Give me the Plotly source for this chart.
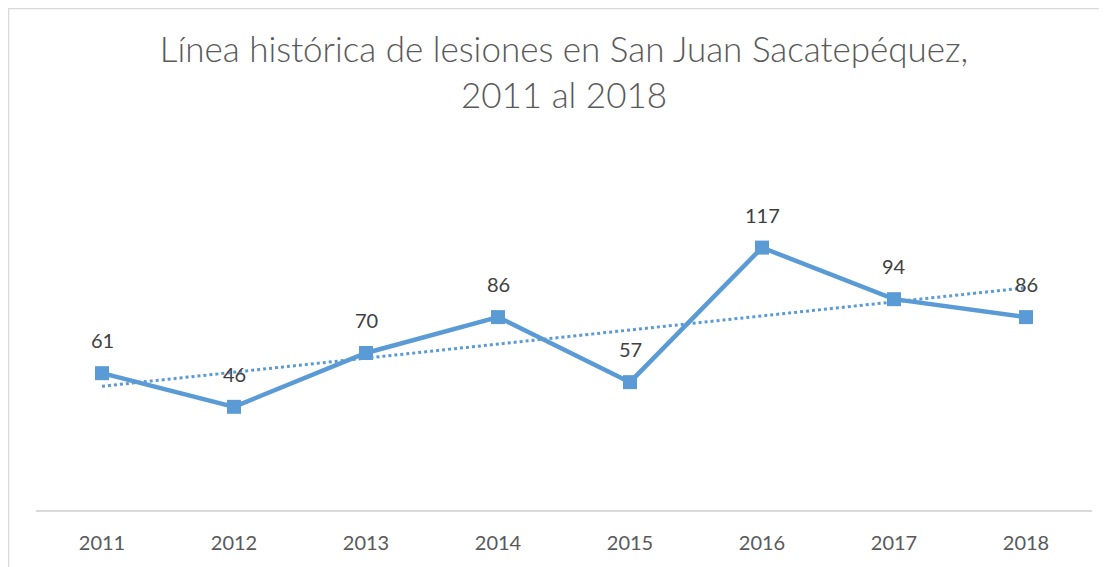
import numpy as np
import plotly.graph_objects as go

years = ["2011", "2012", "2013", "2014", "2015", "2016", "2017", "2018"]
lesiones = [61, 46, 70, 86, 57, 117, 94, 86]

# linear trendline (least squares) like Excel
xi = np.arange(1, len(lesiones) + 1)
slope, intercept = np.polyfit(xi, lesiones, 1)
trend = slope * xi + intercept

color = "#5B9BD5"
font_fam = "Lato, Open Sans, sans-serif"
fig = go.Figure()
fig.add_trace(go.Scatter(
    x=years, y=trend, mode="lines",
    line=dict(color=color, width=3, dash="dot"),
    hoverinfo="skip", showlegend=False,
))
fig.add_trace(go.Scatter(
    x=years, y=lesiones, mode="lines+markers",
    line=dict(color=color, width=4.5),
    marker=dict(symbol="square", size=14, color=color),
    showlegend=False,
))
for i, v in enumerate(lesiones):
    fig.add_annotation(x=i, y=v, xref="x", yref="y", text=str(v), showarrow=False,
                       yshift=33, yanchor="middle",
                       font=dict(family=font_fam, size=20, color="#404040"))

# page has an 8px body margin; compensate
W, H = 1107, 567
ml, mr, mt, mb = 28, 23, 188, 65
pw, ph = W - ml - mr, H - mt - mb
fig.add_shape(type="rect", xref="paper", yref="paper",
              x0=(0.5 - ml) / pw, x1=1 + 60 / pw,
              y0=-100 / ph, y1=(H - mb - 0.5) / ph,
              line=dict(color="#D9D9D9", width=1.5), layer="below")

fig.update_layout(
    width=W, height=H,
    margin=dict(l=ml, r=mr, t=mt, b=mb),
    paper_bgcolor="white", plot_bgcolor="white",
    title=dict(
        text="Línea histórica de lesiones en San Juan Sacatepéquez,<br>2011 al 2018",
        x=0.5, xanchor="center", xref="paper",
        y=1 - 54 / H, yanchor="middle", yref="container",
        font=dict(family=font_fam, size=35, color="#595959", weight=300),
    ),
    xaxis=dict(
        type="category", range=[-0.5, 7.5],
        showline=True, linecolor="#D9D9D9", linewidth=1.5,
        showgrid=False, zeroline=False, ticks="",
        tickfont=dict(family=font_fam, size=20, color="#595959"),
        ticklabelstandoff=14,
    ),
    yaxis=dict(range=[0, 140], visible=False, showgrid=False, zeroline=False),
)

fig.write_html("out.html")
